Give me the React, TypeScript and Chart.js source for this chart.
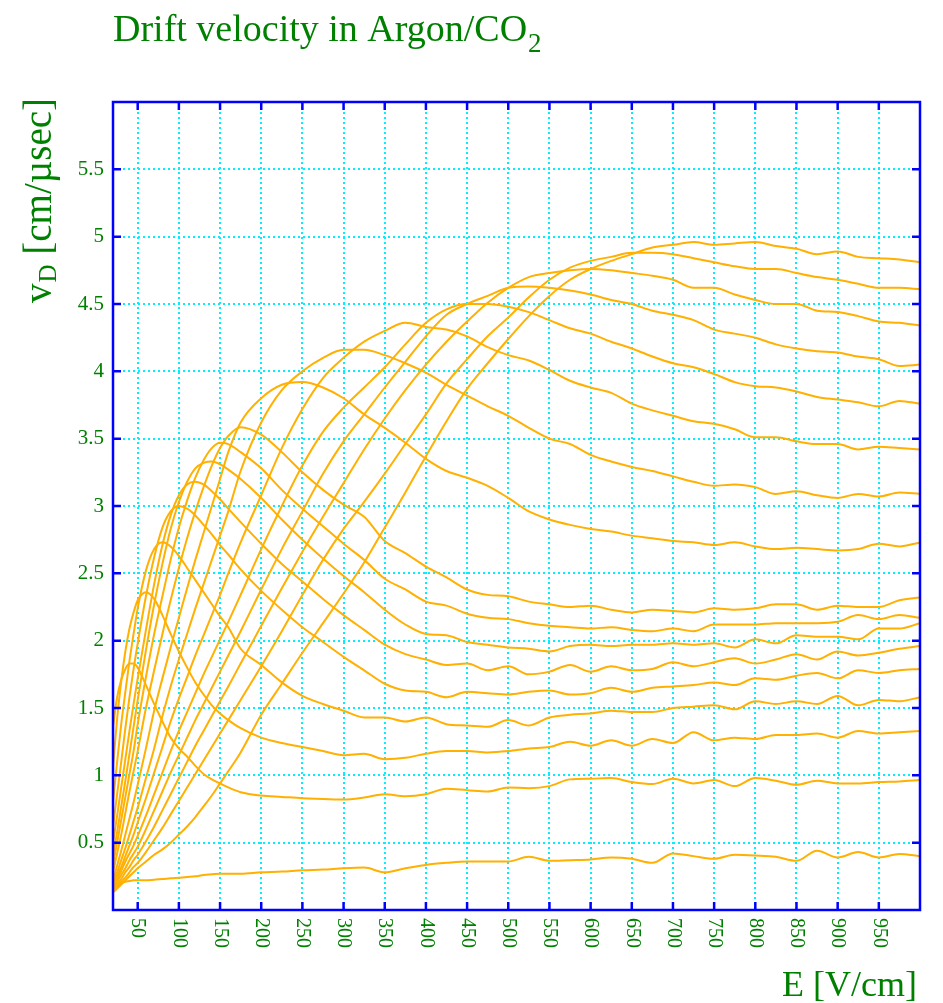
import React, { useEffect, useRef } from 'react';
import { Chart, registerables } from 'chart.js';

Chart.register(...registerables);

// ---- data ----
const E_FIELD = [20, 25, 30, 35, 40, 45, 50, 60, 70, 80, 90, 100, 110, 120, 130, 140, 150, 160, 175,
  200, 225, 250, 275, 300, 325, 350, 375, 400, 425, 450, 475, 500, 525, 550, 575, 600, 625, 650, 675,
  700, 725, 750, 775, 800, 825, 850, 875, 900, 925, 950, 975, 1000];

const V0 = [0.15, 0.18, 0.20, 0.21, 0.215, 0.22, 0.22, 0.22, 0.225, 0.23, 0.235, 0.24, 0.245, 0.25, 0.26, 0.265, 0.27, 0.27, 0.27,
  0.28, 0.285, 0.295, 0.30, 0.31, 0.315, 0.28, 0.31, 0.335, 0.35, 0.36, 0.36, 0.36, 0.395, 0.365, 0.37, 0.375, 0.39, 0.38, 0.35,
  0.42, 0.40, 0.38, 0.41, 0.405, 0.395, 0.365, 0.44, 0.39, 0.43, 0.39, 0.415, 0.40];
const V1 = [1.36, 1.58, 1.71, 1.79, 1.83, 1.83, 1.80, 1.67, 1.53, 1.40, 1.28, 1.20, 1.14, 1.07, 1.01, 0.97, 0.94, 0.91, 0.875,
  0.85, 0.84, 0.83, 0.825, 0.82, 0.835, 0.86, 0.845, 0.86, 0.90, 0.89, 0.88, 0.91, 0.905, 0.92, 0.97, 0.975, 0.98, 0.95, 0.935,
  0.975, 0.94, 0.965, 0.92, 0.98, 0.96, 0.93, 0.96, 0.94, 0.94, 0.95, 0.955, 0.965];
const V2 = [1.06, 1.42, 1.70, 1.92, 2.09, 2.21, 2.30, 2.36, 2.31, 2.19, 2.05, 1.92, 1.80, 1.69, 1.60, 1.52, 1.46, 1.41, 1.35,
  1.28, 1.24, 1.21, 1.18, 1.15, 1.16, 1.12, 1.13, 1.16, 1.18, 1.18, 1.17, 1.18, 1.20, 1.21, 1.25, 1.22, 1.26, 1.22, 1.27,
  1.24, 1.32, 1.26, 1.28, 1.27, 1.30, 1.30, 1.31, 1.28, 1.33, 1.31, 1.32, 1.33];
const V3 = [0.80, 1.10, 1.38, 1.62, 1.85, 2.05, 2.24, 2.52, 2.68, 2.73, 2.70, 2.63, 2.54, 2.45, 2.36, 2.27, 2.18, 2.10, 1.94,
  1.82, 1.69, 1.59, 1.53, 1.48, 1.43, 1.43, 1.40, 1.43, 1.38, 1.37, 1.36, 1.41, 1.37, 1.43, 1.45, 1.46, 1.48, 1.47, 1.47,
  1.50, 1.51, 1.52, 1.49, 1.55, 1.53, 1.55, 1.53, 1.59, 1.52, 1.56, 1.55, 1.58];
const V4 = [0.62, 0.86, 1.10, 1.35, 1.58, 1.79, 1.98, 2.33, 2.62, 2.84, 2.96, 3.00, 2.98, 2.93, 2.86, 2.79, 2.71, 2.64, 2.53,
  2.37, 2.23, 2.10, 1.99, 1.88, 1.78, 1.68, 1.63, 1.62, 1.58, 1.62, 1.61, 1.60, 1.62, 1.63, 1.60, 1.61, 1.65, 1.62, 1.65,
  1.66, 1.67, 1.69, 1.67, 1.72, 1.71, 1.74, 1.76, 1.72, 1.78, 1.76, 1.78, 1.79];
const V5 = [0.50, 0.70, 0.91, 1.12, 1.33, 1.53, 1.72, 2.08, 2.42, 2.71, 2.93, 3.08, 3.16, 3.18, 3.16, 3.11, 3.05, 2.98, 2.88,
  2.72, 2.57, 2.44, 2.31, 2.19, 2.08, 1.97, 1.90, 1.86, 1.82, 1.83, 1.78, 1.81, 1.75, 1.77, 1.82, 1.77, 1.81, 1.78, 1.79,
  1.84, 1.81, 1.84, 1.87, 1.83, 1.86, 1.90, 1.86, 1.92, 1.89, 1.91, 1.94, 1.96];
const V6 = [0.40, 0.58, 0.77, 0.96, 1.16, 1.36, 1.56, 1.93, 2.27, 2.57, 2.83, 3.03, 3.18, 3.28, 3.32, 3.33, 3.31, 3.27, 3.20,
  3.06, 2.90, 2.75, 2.61, 2.48, 2.36, 2.23, 2.12, 2.05, 2.04, 1.99, 1.97, 1.95, 1.94, 1.92, 1.96, 1.97, 1.96, 1.97, 1.97,
  1.98, 1.97, 1.98, 1.95, 2.01, 1.98, 2.04, 2.03, 2.03, 2.01, 2.09, 2.09, 2.13];
const V7 = [0.34, 0.50, 0.67, 0.84, 1.01, 1.18, 1.38, 1.73, 2.05, 2.33, 2.60, 2.84, 3.04, 3.21, 3.34, 3.43, 3.47, 3.46, 3.40,
  3.28, 3.12, 2.98, 2.85, 2.72, 2.60, 2.46, 2.38, 2.29, 2.26, 2.20, 2.17, 2.16, 2.13, 2.11, 2.10, 2.09, 2.10, 2.08, 2.07,
  2.09, 2.07, 2.12, 2.12, 2.12, 2.13, 2.13, 2.13, 2.14, 2.19, 2.16, 2.19, 2.17];
const V8 = [0.28, 0.42, 0.56, 0.72, 0.88, 1.03, 1.18, 1.50, 1.78, 2.05, 2.30, 2.54, 2.76, 2.96, 3.14, 3.30, 3.43, 3.52, 3.585,
  3.53, 3.40, 3.25, 3.12, 3.01, 2.92, 2.74, 2.65, 2.55, 2.47, 2.38, 2.34, 2.33, 2.29, 2.27, 2.25, 2.26, 2.23, 2.21, 2.23,
  2.22, 2.21, 2.24, 2.23, 2.24, 2.27, 2.27, 2.23, 2.26, 2.25, 2.25, 2.30, 2.32];
const V9 = [0.22, 0.33, 0.44, 0.56, 0.68, 0.80, 0.93, 1.20, 1.48, 1.72, 1.95, 2.17, 2.39, 2.60, 2.80, 3.00, 3.20, 3.40, 3.62,
  3.80, 3.90, 3.92, 3.88, 3.80, 3.68, 3.58, 3.47, 3.35, 3.26, 3.21, 3.15, 3.06, 2.96, 2.90, 2.86, 2.83, 2.81, 2.78, 2.76,
  2.74, 2.73, 2.71, 2.73, 2.70, 2.68, 2.69, 2.68, 2.67, 2.68, 2.72, 2.70, 2.73];
const V10 = [0.20, 0.28, 0.37, 0.46, 0.56, 0.66, 0.76, 0.98, 1.20, 1.44, 1.66, 1.86, 2.05, 2.24, 2.42, 2.60, 2.78, 2.96, 3.26,
  3.62, 3.86, 4.00, 4.10, 4.16, 4.16, 4.12, 4.06, 3.99, 3.90, 3.82, 3.74, 3.67, 3.58, 3.50, 3.46, 3.38, 3.33, 3.29, 3.26,
  3.22, 3.18, 3.15, 3.16, 3.14, 3.09, 3.11, 3.08, 3.06, 3.09, 3.07, 3.10, 3.09];
const V11 = [0.18, 0.25, 0.32, 0.40, 0.48, 0.56, 0.65, 0.83, 1.02, 1.21, 1.40, 1.57, 1.73, 1.89, 2.04, 2.19, 2.34, 2.50, 2.73,
  3.08, 3.43, 3.72, 3.95, 4.10, 4.22, 4.30, 4.36, 4.33, 4.31, 4.26, 4.18, 4.12, 4.08, 4.01, 3.93, 3.88, 3.84, 3.76, 3.71,
  3.67, 3.63, 3.61, 3.57, 3.51, 3.51, 3.48, 3.46, 3.46, 3.42, 3.44, 3.43, 3.42];
const V12 = [0.17, 0.23, 0.29, 0.36, 0.42, 0.48, 0.55, 0.70, 0.86, 1.02, 1.18, 1.33, 1.47, 1.61, 1.75, 1.88, 2.01, 2.14, 2.34,
  2.68, 3.00, 3.30, 3.55, 3.73, 3.88, 4.03, 4.20, 4.36, 4.46, 4.50, 4.50, 4.48, 4.44, 4.38, 4.32, 4.28, 4.22, 4.17, 4.11,
  4.06, 4.03, 3.98, 3.92, 3.89, 3.88, 3.85, 3.81, 3.79, 3.77, 3.74, 3.78, 3.76];
const V13 = [0.16, 0.21, 0.26, 0.31, 0.37, 0.42, 0.47, 0.60, 0.74, 0.88, 1.02, 1.15, 1.28, 1.41, 1.53, 1.65, 1.77, 1.89, 2.07,
  2.38, 2.68, 2.96, 3.24, 3.48, 3.68, 3.88, 4.07, 4.26, 4.42, 4.50, 4.56, 4.62, 4.63, 4.62, 4.60, 4.57, 4.53, 4.50, 4.45,
  4.42, 4.38, 4.31, 4.28, 4.25, 4.20, 4.17, 4.15, 4.14, 4.11, 4.09, 4.04, 4.05];
const V14 = [0.15, 0.19, 0.23, 0.28, 0.32, 0.37, 0.41, 0.51, 0.62, 0.74, 0.86, 0.98, 1.10, 1.22, 1.33, 1.44, 1.55, 1.66, 1.83,
  2.11, 2.39, 2.66, 2.92, 3.17, 3.42, 3.65, 3.86, 4.05, 4.22, 4.37, 4.51, 4.62, 4.70, 4.73, 4.75, 4.76, 4.75, 4.73, 4.71,
  4.68, 4.62, 4.62, 4.57, 4.53, 4.50, 4.50, 4.45, 4.44, 4.41, 4.37, 4.36, 4.34];
const V15 = [0.14, 0.17, 0.21, 0.24, 0.28, 0.32, 0.35, 0.43, 0.52, 0.61, 0.71, 0.81, 0.91, 1.01, 1.11, 1.21, 1.31, 1.41, 1.56,
  1.81, 2.07, 2.34, 2.60, 2.83, 3.03, 3.24, 3.46, 3.68, 3.91, 4.09, 4.26, 4.40, 4.55, 4.68, 4.77, 4.82, 4.85, 4.88, 4.88,
  4.87, 4.84, 4.81, 4.78, 4.76, 4.76, 4.73, 4.70, 4.68, 4.65, 4.62, 4.62, 4.61];
const V16 = [0.13, 0.16, 0.19, 0.22, 0.25, 0.28, 0.31, 0.36, 0.41, 0.45, 0.50, 0.56, 0.62, 0.69, 0.77, 0.85, 0.94, 1.03, 1.17,
  1.45, 1.68, 1.91, 2.13, 2.35, 2.58, 2.84, 3.10, 3.37, 3.63, 3.87, 4.06, 4.24, 4.41, 4.56, 4.68, 4.76, 4.82, 4.87, 4.92,
  4.94, 4.96, 4.94, 4.95, 4.96, 4.93, 4.91, 4.87, 4.89, 4.85, 4.84, 4.83, 4.81];

const SERIES = [V0, V1, V2, V3, V4, V5, V6, V7, V8, V9, V10, V11, V12, V13, V14, V15, V16];

const X_TICKS = [50, 100, 150, 200, 250, 300, 350, 400, 450, 500, 550, 600, 650, 700, 750, 800, 850, 900, 950];
const X_TICK_LABELS = ['50', '100', '150', '200', '250', '300', '350', '400', '450', '500', '550', '600', '650', '700', '750', '800', '850', '900', '950'];
const Y_TICKS = [0.5, 1, 1.5, 2, 2.5, 3, 3.5, 4, 4.5, 5, 5.5];
const Y_TICK_LABELS = ['0.5', '1', '1.5', '2', '2.5', '3', '3.5', '4', '4.5', '5', '5.5'];

const TITLE_MAIN = 'Drift velocity in Argon/CO';
const TITLE_SUB = '2';
const Y_TITLE_MAIN = 'v';
const Y_TITLE_SUB = 'D';
const Y_TITLE_REST = ' [cm/\u00b5sec]';
const X_TITLE = 'E [V/cm]';

// ---- style ----
const SERIF = '"Liberation Serif", "DejaVu Serif", serif';
const GREEN = '#008000';
const FRAME = '#0000ff';
const GRID = '#00f0ff';
const LINE = '#ffb000';

const decoPlugin = {
  id: 'deco',
  afterDraw(chart: any) {
    const { ctx, chartArea: a, scales } = chart;
    const xs = scales.x;
    const ys = scales.y;
    ctx.save();
    // frame
    ctx.strokeStyle = FRAME;
    ctx.lineWidth = 2.5;
    ctx.strokeRect(a.left, a.top, a.right - a.left, a.bottom - a.top);
    // inner ticks
    ctx.lineWidth = 2.5;
    ctx.beginPath();
    X_TICKS.forEach((v) => {
      const px = xs.getPixelForValue(v);
      ctx.moveTo(px, a.bottom);
      ctx.lineTo(px, a.bottom - 8);
      ctx.moveTo(px, a.top);
      ctx.lineTo(px, a.top + 8);
    });
    Y_TICKS.forEach((v) => {
      const py = ys.getPixelForValue(v);
      ctx.moveTo(a.left, py);
      ctx.lineTo(a.left + 8, py);
      ctx.moveTo(a.right, py);
      ctx.lineTo(a.right - 8, py);
    });
    ctx.stroke();

    ctx.fillStyle = GREEN;
    // x tick labels, rotated clockwise
    ctx.font = `20px ${SERIF}`;
    ctx.textAlign = 'left';
    ctx.textBaseline = 'middle';
    X_TICKS.forEach((v, i) => {
      const px = xs.getPixelForValue(v);
      ctx.save();
      ctx.translate(px, a.bottom + 8);
      ctx.rotate(Math.PI / 2);
      ctx.fillText(X_TICK_LABELS[i], 0, 0);
      ctx.restore();
    });

    // title
    ctx.textBaseline = 'alphabetic';
    ctx.font = `38px ${SERIF}`;
    ctx.fillText(TITLE_MAIN, 113, 41);
    const tw = ctx.measureText(TITLE_MAIN).width;
    ctx.font = `27px ${SERIF}`;
    ctx.fillText(TITLE_SUB, 113 + tw + 1, 52);

    // x title
    ctx.font = `36px ${SERIF}`;
    ctx.textAlign = 'right';
    ctx.fillText(X_TITLE, 917, 996);

    // y title
    ctx.save();
    ctx.translate(51, 303);
    ctx.rotate(-Math.PI / 2);
    ctx.textAlign = 'left';
    ctx.font = `39px ${SERIF}`;
    ctx.fillText(Y_TITLE_MAIN, 0, 0);
    let w = ctx.measureText(Y_TITLE_MAIN).width;
    ctx.font = `25px ${SERIF}`;
    ctx.fillText(Y_TITLE_SUB, w + 1, 5);
    w += ctx.measureText(Y_TITLE_SUB).width + 1;
    ctx.font = `39px ${SERIF}`;
    ctx.fillText(Y_TITLE_REST, w, 0);
    ctx.restore();

    ctx.restore();
  },
};

export default function App() {
  const ref = useRef<HTMLCanvasElement | null>(null);

  useEffect(() => {
    if (!ref.current) return;
    const datasets = SERIES.map((vals, k) => ({
      label: `curve ${k}`,
      data: E_FIELD.map((e, i) => ({ x: e, y: vals[i] })),
      borderColor: LINE,
      borderWidth: 2,
      pointRadius: 0,
      fill: false,
      cubicInterpolationMode: 'monotone' as const,
    }));
    const chart = new Chart(ref.current, {
      type: 'line',
      data: { datasets },
      options: {
        animation: false,
        responsive: false,
        maintainAspectRatio: false,
        layout: { padding: { left: 8, right: 23, top: 102, bottom: 0 } },
        plugins: { legend: { display: false }, tooltip: { enabled: false }, title: { display: false } },
        scales: {
          x: {
            type: 'linear',
            min: 20,
            max: 1000,
            afterBuildTicks: (s: any) => { s.ticks = X_TICKS.map((v) => ({ value: v })); },
            afterFit: (s: any) => { s.height = 93; },
            ticks: { display: false },
            grid: { color: GRID, lineWidth: 2, drawTicks: false },
            border: { display: false, dash: [2, 3] },
          },
          y: {
            type: 'linear',
            min: 0,
            max: 6,
            afterBuildTicks: (s: any) => { s.ticks = Y_TICKS.map((v) => ({ value: v })); },
            afterFit: (s: any) => { s.width = 105; },
            ticks: {
              color: GREEN,
              font: { family: SERIF, size: 21 },
              padding: 9,
              callback: (_v: any, i: number) => Y_TICK_LABELS[i],
            },
            grid: { color: GRID, lineWidth: 2, drawTicks: false },
            border: { display: false, dash: [2, 3] },
          },
        },
      },
      plugins: [decoPlugin],
    });
    return () => chart.destroy();
  }, []);

  return (
    <div style={{ position: 'fixed', left: 0, top: 0, width: 943, height: 1003, background: '#fff' }}>
      <canvas ref={ref} width={943} height={1003} style={{ display: 'block' }} />
    </div>
  );
}
